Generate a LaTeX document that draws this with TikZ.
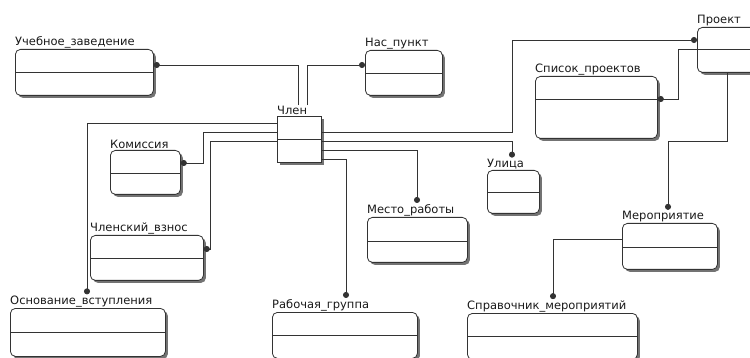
\documentclass[tikz,border=0pt]{standalone}
\usepackage{fontspec}
\newfontfamily\lblfont{DejaVu Sans}
\usetikzlibrary{arrows.meta,shadows,positioning}

\tikzset{
    entity/.style={draw=black!80, fill=white, line width=0.8pt, rounded corners=5pt,
        anchor=north west, inner sep=0pt,
        drop shadow={shadow xshift=2.5pt, shadow yshift=-2.5pt, fill=black!55, opacity=1},
        path picture={\draw[black!80, line width=0.8pt]
            ([yshift=-#1]path picture bounding box.north west) --
            ([yshift=-#1]path picture bounding box.north east);}},
    entity/.default=23pt,
    lbl/.style={anchor=south west, inner xsep=0pt, inner ysep=1pt, text=black!90,
        font=\lblfont\fontsize{11.5}{13}\selectfont},
    rel/.style={draw=black!80, line width=0.8pt, -{Circle[length=6pt]}}
}

\begin{document}
\begin{tikzpicture}[x=1pt, y=-1pt]
    \useasboundingbox (0,0) rectangle (750,358);

    % entities
    \node[entity, minimum width=44pt, minimum height=46pt, sharp corners] (chlen) at (277,116) {};
    \node[entity, minimum width=138pt, minimum height=46pt] (uchzav) at (15,49) {};
    \node[entity, minimum width=77pt, minimum height=45pt] (naspunkt) at (365,50) {};
    \node[entity=22pt, minimum width=70pt, minimum height=45pt] (proekt) at (697,27) {};
    \node[entity, minimum width=122pt, minimum height=62pt] (spisok) at (535,76) {};
    \node[entity=22pt, minimum width=52pt, minimum height=43pt] (ulica) at (487,170) {};
    \node[entity=24pt, minimum width=100pt, minimum height=45pt] (mesto) at (367,217) {};
    \node[entity=24pt, minimum width=95pt, minimum height=46pt] (meropr) at (622,223) {};
    \node[entity, minimum width=170pt, minimum height=46pt] (sprav) at (467,313) {};
    \node[entity, minimum width=145pt, minimum height=46pt] (rabgr) at (272,312) {};
    \node[entity=24pt, minimum width=155pt, minimum height=48pt] (osnov) at (10,308) {};
    \node[entity, minimum width=113pt, minimum height=45pt] (chlenvz) at (90,235) {};
    \node[entity, minimum width=70pt, minimum height=44pt] (komis) at (110,150) {};

    % labels
    \node[lbl] (chlenL) at (chlen.north west) {Член};
    \node[lbl] (uchzavL) at (uchzav.north west) {Учебное\_заведение};
    \node[lbl] (naspunktL) at (naspunkt.north west) {Нас\_пункт};
    \node[lbl] (proektL) at (proekt.north west) {Проект};
    \node[lbl] (spisokL) at (spisok.north west) {Список\_проектов};
    \node[lbl] (ulicaL) at (ulica.north west) {Улица};
    \node[lbl] (mestoL) at (mesto.north west) {Место\_работы};
    \node[lbl] (meroprL) at (meropr.north west) {Мероприятие};
    \node[lbl] (spravL) at (sprav.north west) {Справочник\_мероприятий};
    \node[lbl] (rabgrL) at (rabgr.north west) {Рабочая\_группа};
    \node[lbl] (osnovL) at (osnov.north west) {Основание\_вступления};
    \node[lbl] (chlenvzL) at (chlenvz.north west) {Членский\_взнос};
    \node[lbl] (komisL) at (komis.north west) {Комиссия};

    % relationships
    \draw[rel] ([xshift=21pt]chlenL.north west) |- ([yshift=-16pt]uchzav.north east);
    \draw[rel] ([xshift=30pt]chlenL.north west) |- ([yshift=-15pt]naspunkt.north west);
    \draw[rel] ([yshift=-7pt]chlen.north west) -| ([xshift=77pt]osnovL.north west);
    \draw[rel] ([yshift=-16pt]chlen.north west) -| ([xshift=23pt,yshift=-13pt]komis.north east)
        -- ([yshift=-13pt]komis.north east);
    \draw[rel] ([yshift=-25pt]chlen.north west) -| ([xshift=7pt,yshift=-14pt]chlenvz.north east)
        -- ([yshift=-14pt]chlenvz.north east);
    \draw[rel] ([yshift=-16pt]chlen.north east) -| ([xshift=-185pt,yshift=-13pt]proekt.north west)
        -- ([yshift=-13pt]proekt.north west);
    \draw[rel] ([yshift=-25pt]chlen.north east) -| ([xshift=25pt]ulicaL.north west);
    \draw[rel] ([yshift=-34pt]chlen.north east) -| ([xshift=50pt]mestoL.north west);
    \draw[rel] ([yshift=-43pt]chlen.north east) -| ([xshift=74pt]rabgrL.north west);
    \draw[rel] ([yshift=-22pt]proekt.north west) -| ([xshift=21pt,yshift=-23pt]spisok.north east)
        -- ([yshift=-23pt]spisok.north east);
    \draw[rel] ([xshift=30pt]proekt.south west) -- ++(0,69) -| ([xshift=46pt]meroprL.north west);
    \draw[rel] ([yshift=-16pt]meropr.north west) -| ([xshift=86pt]spravL.north west);
\end{tikzpicture}
\end{document}
